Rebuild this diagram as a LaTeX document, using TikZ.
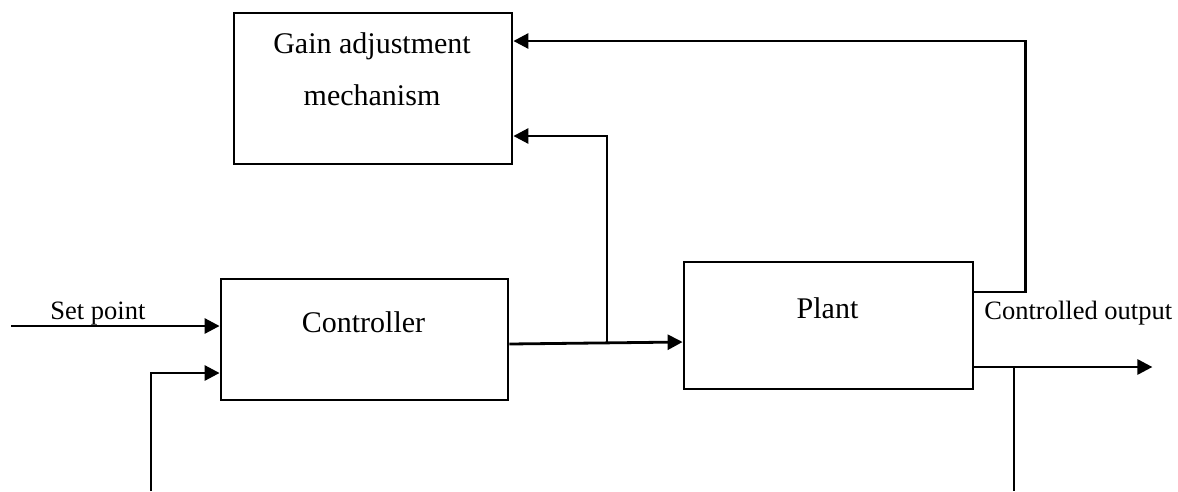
\documentclass[tikz,border=0pt]{standalone}
\usepackage{fontspec}
\setmainfont{Liberation Serif}
\usetikzlibrary{arrows.meta}
\begin{document}
\begin{tikzpicture}[x=1pt,y=-1pt,
  line width=2.8pt,
  block/.style={draw, rectangle, inner sep=0pt},
  bigtext/.style={font=\fontsize{30}{36}\selectfont, inner sep=0pt, anchor=base},
  smalltext/.style={font=\fontsize{26.5}{32}\selectfont, inner sep=0pt, anchor=base west},
  arr/.style={-{Triangle[length=15pt,width=15pt]}}]
\useasboundingbox (0,0) rectangle (1178,491);

% blocks
\node[block, minimum width=278pt, minimum height=151pt] (gain) at (373,88.5) {};
\node[block, minimum width=287pt, minimum height=121pt] (ctrl) at (364.5,339.5) {};
\node[block, minimum width=289pt, minimum height=127pt] (plant) at (828.5,325.5) {};

% block texts
\node[bigtext] (gaintxt1) at (372,53) {Gain adjustment};
\node[bigtext] (gaintxt2) at (372,105) {mechanism};
\node[bigtext] (ctrltxt) at (363.5,332) {Controller};
\node[bigtext] (planttxt) at (827.5,318) {Plant};

% signal labels
\node[smalltext] (splabel) at (49,319) {Set point};
\node[smalltext] (outlabel) at (983,319) {Controlled output};

% free ends and branch points
\coordinate (spin) at (11,326);
\coordinate (fbin) at (151,491);
\coordinate (junc) at (607,343);
\coordinate (outbr) at (1014,367);
\coordinate (outdown) at (1014,491);

% inputs to the controller
\draw[arr] (spin) -- (spin -| ctrl.west);
\draw[arr] (fbin) |- ([yshift=-33.5pt]ctrl.west);

% controller to plant, with a tap to the gain adjustment
\draw[arr] ([yshift=-4.5pt]ctrl.east) -- ([yshift=-16.5pt]plant.west);
\draw[arr] (junc) |- ([yshift=-47.5pt]gain.east);

% plant output fed back to the gain adjustment
\draw[arr] ([yshift=33.5pt]plant.east) -- ++(51,0) |- ([yshift=47.5pt]gain.east);

% controlled output
\draw[arr] ([yshift=-41.5pt]plant.east) -- ++(178,0);
\draw (outbr) -- (outdown);
\end{tikzpicture}
\end{document}
